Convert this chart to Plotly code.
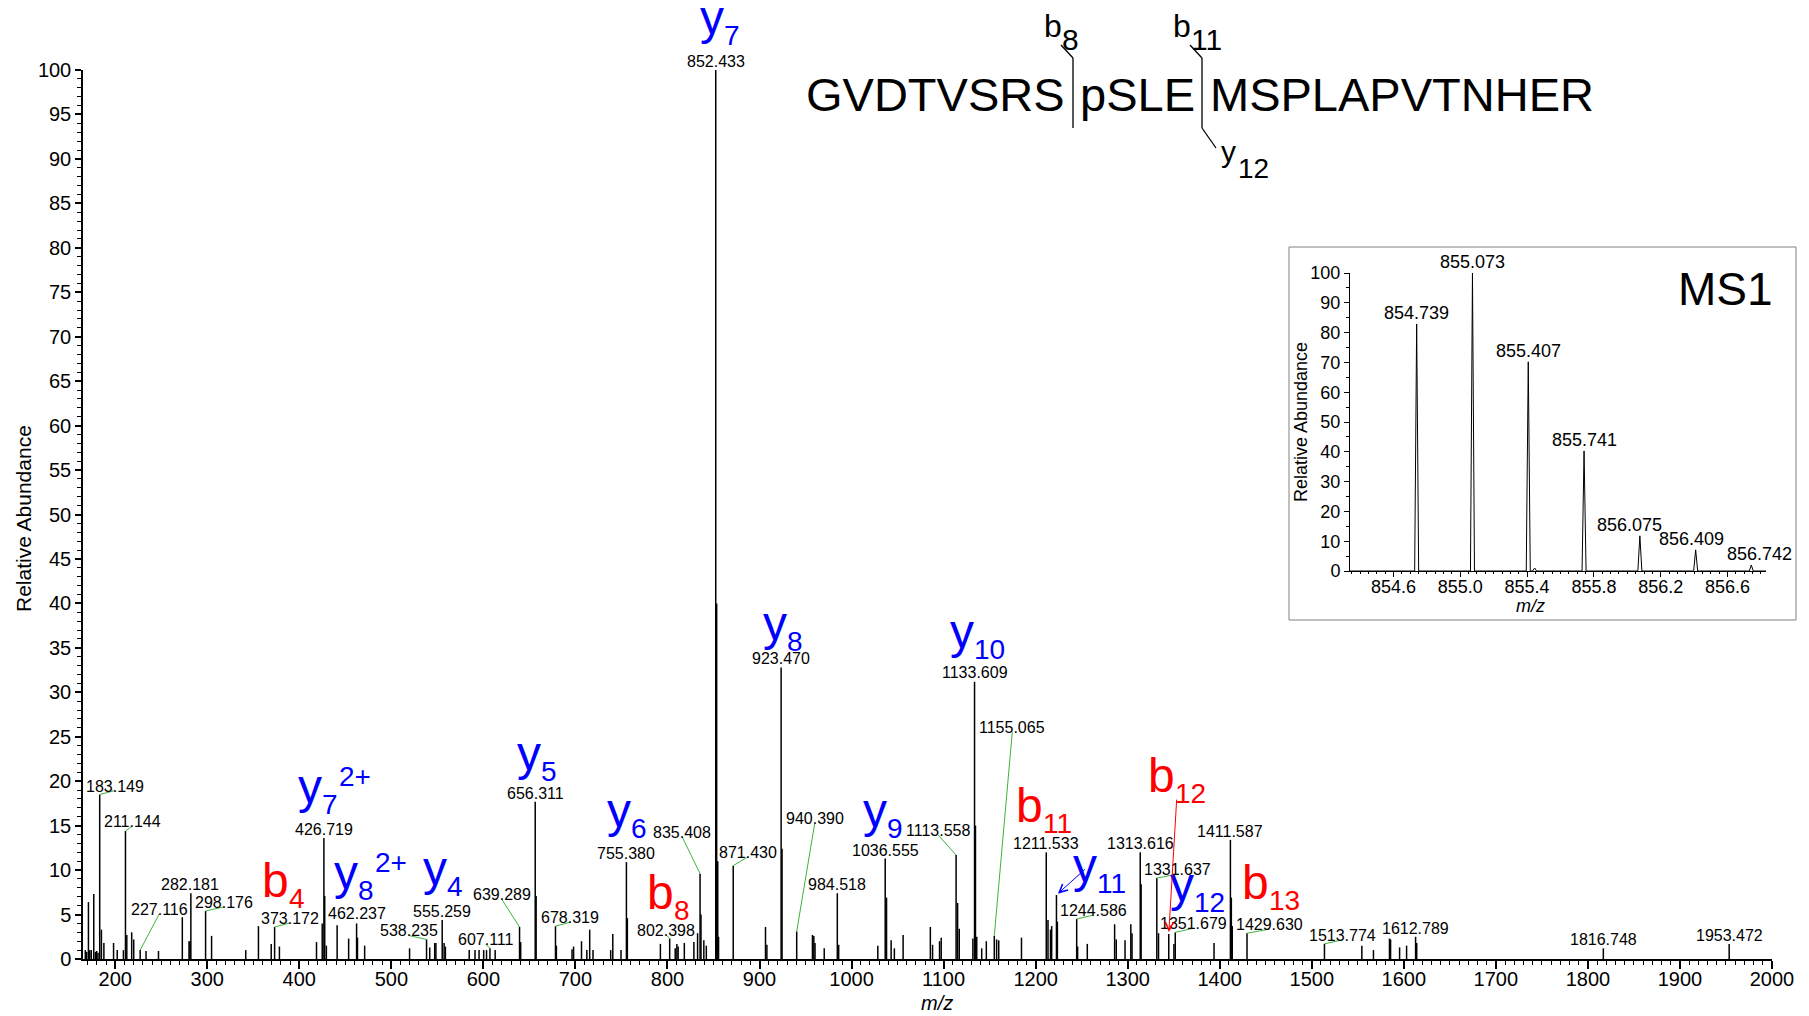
import plotly.graph_objects as go

W, H = 1809, 1016
FONT = "Liberation Sans, Arial, Helvetica, sans-serif"
BLUE, RED, GREEN = "#0000ff", "#ff0000", "#3cb43c"

# ---------------- MS2 spectrum (centroided peaks) ----------------
ms2_mz = [
    167.5, 169.0, 170.9, 172.3, 174.0, 176.7, 178.5, 179.9, 181.3,
    183.149, 185.0, 187.7, 198.2, 202.2, 208.9,
    211.144, 212.6, 217.9, 220.1, 227.116, 233.5, 247.0,
    272.9, 280.2, 281.2, 282.181, 298.176, 304.7, 341.8, 355.6, 369.5,
    373.172, 378.4, 418.7, 424.9, 426.719, 427.6, 429.4, 441.1, 453.6,
    462.237, 463.2, 471.0, 519.8, 538.235, 541.7, 547.1, 548.4,
    555.259, 557.3, 558.7, 584.6, 590.9, 595.3, 600.3, 603.4, 607.111, 612.8,
    639.289, 640.5, 656.311, 657.3, 678.319, 679.3,
    696.3, 698.0, 706.6, 712.4, 715.5, 719.1, 738.3, 740.6, 749.5, 755.380, 756.4,
    792.3, 802.398, 808.4, 810.2, 811.6, 818.3, 828.7, 832.7, 835.408, 836.4, 839.5, 842.2,
    852.433, 853.435, 854.6, 855.5,
    871.430, 906.5, 908.0, 923.470, 924.47, 940.390, 957.5, 959.0, 960.3, 970.3,
    984.518, 986.0, 1028.5, 1036.555, 1038.0, 1043.0, 1046.5, 1056.0,
    1085.6, 1088.0, 1095.6, 1097.4, 1113.558, 1115.2, 1117.0,
    1131.8, 1133.609, 1134.61, 1136.0, 1141.4, 1146.4, 1155.065, 1157.6, 1159.9, 1184.6,
    1211.533, 1213.4, 1216.1, 1217.4, 1222.6, 1223.6, 1244.586, 1245.6, 1256.1,
    1285.8, 1287.6, 1297.1, 1303.4, 1304.7, 1313.616, 1314.6, 1331.637, 1333.5,
    1344.6, 1350.2, 1351.679,
    1393.8, 1411.587, 1412.6, 1413.6, 1429.630, 1513.774, 1554.4, 1567.0,
    1584.4, 1585.6, 1595.4, 1603.0, 1612.789, 1614.0, 1816.748, 1953.472,
]
ms2_int = [
    1.0, 0.8, 6.4, 1.0, 1.0, 7.3, 0.8, 0.9, 0.7,
    18.5, 3.3, 1.8, 1.8, 1.0, 1.0,
    14.4, 2.7, 3.0, 2.2, 1.0, 0.9, 0.9,
    4.7, 2.0, 2.0, 7.4, 5.4, 2.6, 1.0, 3.7, 1.7,
    3.6, 1.4, 1.9, 4.0, 13.6, 7.1, 1.5, 3.8, 2.3,
    4.0, 2.4, 1.5, 1.2, 2.2, 1.3, 1.8, 1.8,
    4.4, 1.8, 1.4, 1.0, 1.0, 1.0, 1.0, 1.0, 1.2, 1.0,
    3.6, 1.9, 17.7, 7.1, 3.7, 1.5,
    1.1, 1.4, 2.0, 1.0, 3.3, 1.0, 1.0, 2.8, 1.0, 10.9, 4.6,
    1.7, 2.3, 1.2, 1.7, 1.4, 1.8, 1.9, 2.9, 9.6, 5.0, 2.1, 1.5,
    100.0, 40.0, 11.0, 2.5,
    10.5, 3.6, 1.6, 32.8, 12.4, 3.1, 2.7, 2.6, 1.8, 1.2,
    7.4, 1.6, 1.5, 11.3, 6.9, 2.1, 1.2, 2.7,
    3.6, 1.6, 2.0, 2.4, 11.7, 6.3, 3.4,
    2.3, 31.2, 15.0, 2.5, 1.2, 2.0, 2.6, 2.2, 2.1, 2.4,
    12.0, 4.4, 3.3, 3.7, 7.2, 4.2, 4.5, 1.4, 1.7,
    3.9, 2.2, 2.1, 3.9, 2.9, 12.0, 8.4, 9.1, 2.9,
    2.8, 1.7, 3.0,
    1.8, 13.4, 6.9, 3.7, 2.9, 1.7, 1.5, 1.0,
    2.3, 2.2, 1.3, 1.5, 2.5, 1.8, 1.2, 1.7,
]

# peaks carrying an m/z label
labelled_mz = [
    183.149, 211.144, 227.116, 282.181, 298.176, 373.172, 426.719, 462.237,
    538.235, 555.259, 607.111, 639.289, 656.311, 678.319, 755.380, 802.398,
    835.408, 852.433, 871.430, 923.470, 940.390, 984.518, 1036.555, 1113.558,
    1133.609, 1155.065, 1211.533, 1244.586, 1313.616, 1331.637, 1351.679,
    1411.587, 1429.630, 1513.774, 1612.789, 1816.748, 1953.472,
]

# fragment ion assignments
ion_series = ["y", "y", "y", "y", "y", "y", "y", "y", "b", "b", "y", "b", "y", "b", "y", "b"]
ion_number = [7, 8, 10, 5, 6, 7, 8, 4, 4, 8, 9, 11, 11, 12, 12, 13]
ion_charge = ["", "", "", "", "", "2+", "2+", "", "", "", "", "", "", "", "", ""]

# peaks pointed at by arrows (y11, b12)
arrow_mz = [1222.6, 1344.6]

# ---------------- MS1 precursor isotope cluster ----------------
ms1_mz = [854.739, 855.073, 855.407, 855.741, 856.075, 856.409, 856.742]
ms1_int = [82.9, 100.0, 70.2, 40.3, 11.8, 7.1, 2.0]
ms1_extra_mz = [855.445]
ms1_extra_int = [1.0]

peptide = ["GVDTVSRS", "pSLE", "MSPLAPVTNHER"]

# ---------------- layout geometry (pixels) ----------------
MX0, MX1, MYT, MYB = 83, 1772, 70, 959          # main plot area
IX0, IX1, IYT, IYB = 1350, 1766, 273, 571       # inset plot area
MAIN_XR = [165, 2000]
INSET_XR = [854.34, 856.83]

ION_SIZE, ION_SUB = 48, 28                       # ion label font sizes
ADVANCE = {"y": 0.500, "b": 0.556}               # glyph advance (em)
BEARING = {"y": 0.0, "b": 3.0}                   # left side bearing (px)
DIGIT = 0.556                                    # digit / '+' advance (em)


def px(x):
    return x / W


def py(y):
    return 1 - y / H


# label offsets: (dx px, lift px, leader line)
label_offsets = {
    "183.149": (15, 0, True), "211.144": (7, 1, True), "227.116": (19, 32, True),
    "282.181": (-1, 0, False), "298.176": (18, 0, True), "373.172": (15, 0, True),
    "426.719": (0, 0, False), "462.237": (0, 1, False), "538.235": (-18, 0, True),
    "555.259": (0, 0, False), "607.111": (-4, 0, True), "639.289": (-18, 24, True),
    "656.311": (0, 0, False), "678.319": (15, 0, True), "755.380": (0, 0, False),
    "802.398": (-4, 0, True), "835.408": (-18, 33, True), "852.433": (0, 0, False),
    "871.430": (15, 5, True), "923.470": (0, 0, False), "940.390": (18, 104, True),
    "984.518": (0, 0, False), "1036.555": (0, 0, False), "1113.558": (-18, 16, True),
    "1133.609": (0, 1, False), "1155.065": (18, 200, True), "1211.533": (0, 0, False),
    "1244.586": (17, 0, True), "1313.616": (0, 0, False), "1331.637": (21, 0, True),
    "1351.679": (18, 0, True), "1411.587": (0, 0, False), "1429.630": (22, 0, True),
    "1513.774": (18, 0, True), "1612.789": (0, 0, False), "1816.748": (0, 0, False),
    "1953.472": (0, 0, False),
}

# ion label placement: glyph left edge and baseline (px)
ion_pos = [
    (700, 34), (763, 640), (950, 648), (517, 770), (607, 827), (298, 803),
    (334, 889), (423, 885), (265, 897), (650, 909), (863, 827), (1019, 822),
    (1073, 882), (1151, 792), (1170, 901), (1245, 899),
]
# arrow tails relative to the arrow tips (px) and arrow colours
arrow_tail = [(30, -27), (8, -136)]
arrow_color = [BLUE, RED]

fig = go.Figure()

# stick spectrum
sx, sy = [], []
for m, v in zip(ms2_mz, ms2_int):
    sx += [m, m, None]
    sy += [0, v, None]
fig.add_trace(go.Scatter(x=sx, y=sy, mode="lines", line=dict(color="black", width=1.5),
                         xaxis="x", yaxis="y", hoverinfo="skip", showlegend=False))

# MS1 profile peaks drawn as narrow triangles on a zero baseline
HALF = 0.012
pk = sorted(zip(ms1_mz + ms1_extra_mz, ms1_int + ms1_extra_int))
ix, iy = [INSET_XR[0]], [0]
for m, v in pk:
    ix += [m - HALF, m, m + HALF]
    iy += [0, v, 0]
ix.append(INSET_XR[1])
iy.append(0)
fig.add_trace(go.Scatter(x=ix, y=iy, mode="lines", line=dict(color="black", width=1),
                         xaxis="x2", yaxis="y2", hoverinfo="skip", showlegend=False))

ann, shapes = [], []


def text_at(text, left, base, size, color="black", xanchor="left"):
    """Place text by its left edge (or right edge) and its baseline, in px."""
    ann.append(dict(
        text=text, xref="paper", yref="paper",
        x=px(left), y=py(base + 0.212 * size), xanchor=xanchor, yanchor="bottom",
        showarrow=False, borderpad=0, borderwidth=0,
        font=dict(family=FONT, size=size, color=color)))


# m/z labels and their leader lines
height_of = dict(zip(ms2_mz, ms2_int))
for m in labelled_mz:
    key = f"{m:.3f}"
    dx, lift, leader = label_offsets[key]
    h = height_of[m]
    ann.append(dict(text=key, x=m, y=h, xref="x", yref="y", xanchor="center",
                    yanchor="bottom", xshift=dx, yshift=lift, showarrow=False,
                    borderpad=0, borderwidth=0,
                    font=dict(family=FONT, size=16, color="black")))
    if leader:
        shapes.append(dict(type="line", xref="x", yref="y", xsizemode="pixel",
                           ysizemode="pixel", xanchor=m, yanchor=h, x0=0, x1=dx,
                           y0=0, y1=lift + 4, line=dict(color=GREEN, width=1)))

# fragment ion names: letter, subscript index, optional charge superscript
for s, n, c, (left, base) in zip(ion_series, ion_number, ion_charge, ion_pos):
    col = BLUE if s == "y" else RED
    x0 = left - BEARING[s]
    text_at(s, x0, base, ION_SIZE, col)
    xs = x0 + ADVANCE[s] * ION_SIZE
    text_at(str(n), xs, base + 11, ION_SUB, col)
    if c:
        text_at(c, xs + DIGIT * ION_SUB * len(str(n)) + 1, base - 17, ION_SUB, col)

# arrows pointing to the y11 and b12 peaks
for m, (tx, ty), col in zip(arrow_mz, arrow_tail, arrow_color):
    ann.append(dict(text="", x=m, y=height_of[m], xref="x", yref="y", showarrow=True,
                    ax=tx, ay=ty, arrowhead=5, arrowsize=1.6, arrowwidth=1,
                    arrowcolor=col, standoff=2))

# peptide sequence with fragmentation sites
text_at(peptide[0], 1065, 111, 47, xanchor="right")
text_at(peptide[1], 1080, 111, 47)
text_at(peptide[2], 1210, 111, 47)
for (x0, y0, x1, y1) in [(1073, 58, 1073, 128), (1073, 58, 1061, 45),
                         (1202, 58, 1202, 128), (1202, 58, 1190, 45),
                         (1202, 128, 1216, 148)]:
    shapes.append(dict(type="line", xref="paper", yref="paper", x0=px(x0), y0=py(y0),
                       x1=px(x1), y1=py(y1), line=dict(color="black", width=1.3)))
text_at("b", 1044, 37, 32)
text_at("8", 1062, 50, 30)
text_at("b", 1173, 37, 32)
text_at("11", 1191, 50, 30)
text_at("y", 1221, 162, 30)
text_at("12", 1238, 178, 28)

# axis titles
ann.append(dict(text="Relative Abundance", xref="paper", yref="paper", x=px(23), y=py(519),
                textangle=-90, showarrow=False, xanchor="center", yanchor="middle",
                font=dict(family=FONT, size=21, color="black")))
ann.append(dict(text="<i>m/z</i>", xref="paper", yref="paper", x=px(937), y=py(1003),
                showarrow=False, xanchor="center", yanchor="middle",
                font=dict(family=FONT, size=20, color="black")))

# inset: frame, labels, titles
shapes.append(dict(type="rect", xref="paper", yref="paper", x0=px(1289), x1=px(1796),
                   y0=py(620), y1=py(247), line=dict(color="#808080", width=1)))
ms1_shift = [0, 0, 0, 0, -10, -4, 8]
for m, v, sh in zip(ms1_mz, ms1_int, ms1_shift):
    ann.append(dict(text=f"{m:.3f}", x=m, y=v, xref="x2", yref="y2", xanchor="center",
                    yanchor="bottom", xshift=sh, yshift=1, showarrow=False,
                    borderpad=0, borderwidth=0,
                    font=dict(family=FONT, size=18, color="black")))
ann.append(dict(text="MS1", xref="paper", yref="paper", x=px(1725), y=py(289),
                showarrow=False, xanchor="center", yanchor="middle",
                font=dict(family=FONT, size=46, color="black")))
ann.append(dict(text="Relative Abundance", xref="paper", yref="paper", x=px(1301), y=py(422),
                textangle=-90, showarrow=False, xanchor="center", yanchor="middle",
                font=dict(family=FONT, size=18, color="black")))
ann.append(dict(text="<i>m/z</i>", xref="paper", yref="paper", x=px(1530), y=py(606),
                showarrow=False, xanchor="center", yanchor="middle",
                font=dict(family=FONT, size=18, color="black")))

axis_common = dict(showgrid=False, zeroline=False, showline=True, linecolor="black",
                   ticks="outside", tickcolor="black", fixedrange=True,
                   automargin=False)

fig.update_layout(
    template="none",
    width=W, height=H, autosize=False,
    margin=dict(l=0, r=0, t=0, b=0, pad=0, autoexpand=False),
    paper_bgcolor="white", plot_bgcolor="rgba(0,0,0,0)",
    showlegend=False,
    font=dict(family=FONT, color="black"),
    xaxis=dict(domain=[px(MX0), px(MX1)], range=MAIN_XR, anchor="y",
               tick0=0, dtick=100, ticklen=8, tickwidth=1.5, linewidth=1.5,
               ticklabelstandoff=-7,
               tickfont=dict(size=20, family=FONT, color="black"),
               minor=dict(dtick=10, ticks="outside", ticklen=4, tickwidth=1,
                          tickcolor="black", showgrid=False),
               **axis_common),
    yaxis=dict(domain=[py(MYB), py(MYT)], range=[0, 100], anchor="x",
               tick0=0, dtick=5, ticklen=6, tickwidth=1.5, linewidth=1.5,
               tickfont=dict(size=20, family=FONT, color="black"),
               minor=dict(dtick=1, ticks="outside", ticklen=4, tickwidth=1,
                          tickcolor="black", showgrid=False),
               **axis_common),
    xaxis2=dict(domain=[px(IX0), px(IX1)], range=INSET_XR, anchor="y2",
                tick0=854.6, dtick=0.4, tickformat=".1f", ticklen=5, tickwidth=1,
                linewidth=1, ticklabelstandoff=-6,
                tickfont=dict(size=18, family=FONT, color="black"),
                minor=dict(dtick=0.05, ticks="outside", ticklen=2, tickwidth=1,
                           tickcolor="black", showgrid=False),
                **axis_common),
    yaxis2=dict(domain=[py(IYB), py(IYT)], range=[0, 100], anchor="x2",
                tick0=0, dtick=10, ticklen=5, tickwidth=1, linewidth=1,
                tickfont=dict(size=18, family=FONT, color="black"),
                minor=dict(dtick=5, ticks="outside", ticklen=3, tickwidth=1,
                           tickcolor="black", showgrid=False),
                **axis_common),
    annotations=ann,
    shapes=shapes,
)

fig.write_html("out.html")
